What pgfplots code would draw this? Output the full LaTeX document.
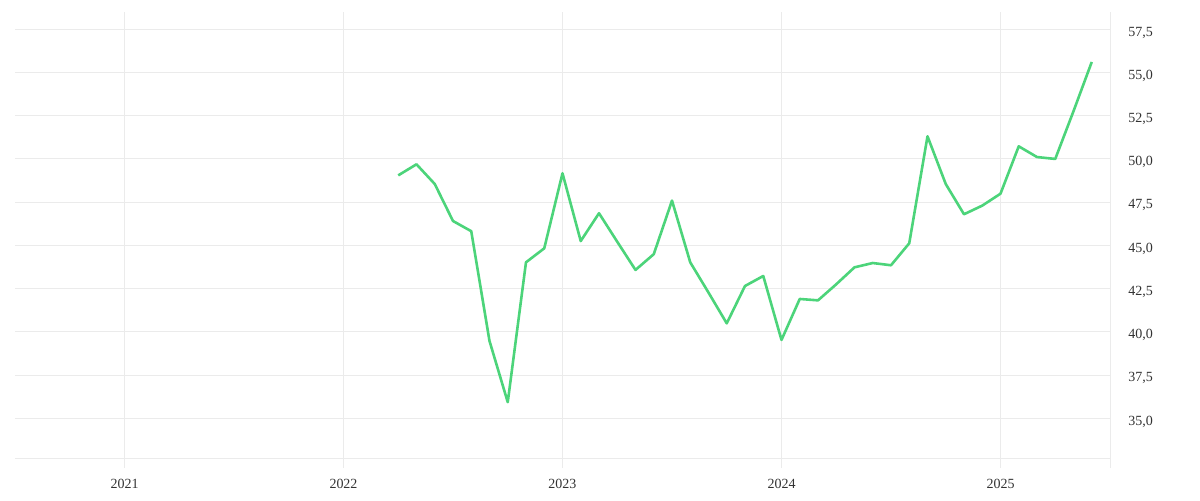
\documentclass[border=0pt]{standalone}
\usepackage{fontspec}
\setmainfont{Liberation Serif}
\usepackage{pgfplots}
\pgfplotsset{compat=1.18}
\definecolor{gridc}{HTML}{EBEBEB}
\definecolor{linec}{HTML}{4CD47A}
\definecolor{txt}{HTML}{333333}

\begin{document}
\begin{tikzpicture}
\useasboundingbox (0,0) rectangle (600pt,250pt);
\begin{axis}[
  at={(7.5pt,21pt)}, anchor=south west,
  scale only axis, width=547.5pt, height=223pt,
  xmin=2020.5, xmax=2025.5, ymin=32.7, ymax=58.5,
  axis line style={draw=none},
  xtick={2021,2022,2023,2024,2025},
  xticklabels={2021,2022,2023,2024,2025},
  ytick={35,37.5,40,42.5,45,47.5,50,52.5,55,57.5},
  grid=major,
  grid style={gridc, line width=0.5pt},
  xtick style={gridc, line width=0.5pt},
  ytick style={draw=none},
  xtick pos=bottom, tick align=outside,
  major tick length=5pt,
  yticklabel pos=right,
  /pgf/number format/assume math mode=true,
  yticklabel={\pgfmathprintnumber[fixed, fixed zerofill, precision=1, use comma]{\tick}},
  yticklabel style={anchor=base west, inner sep=0pt, xshift=4pt, yshift=-3.4pt, font=\fontsize{7}{8}\selectfont, text=txt},
  xticklabel style={anchor=north, inner sep=0pt, yshift=-5.3pt, font=\fontsize{7}{8}\selectfont, text=txt},
  extra x ticks={2025.5},
  extra x tick labels={},
  extra x tick style={grid=major},
  extra y ticks={32.7},
  extra y tick labels={},
  extra y tick style={grid=major},
]
\addplot[linec, line width=1.3pt, line join=round] coordinates {
  (2022.25,49.05) (2022.3333,49.69) (2022.4167,48.55) (2022.5,46.41)
  (2022.5833,45.82) (2022.6667,39.47) (2022.75,35.93) (2022.8333,44.02)
  (2022.9167,44.83) (2023,49.17) (2023.0833,45.25) (2023.1667,46.86)
  (2023.25,45.21) (2023.3333,43.58) (2023.4167,44.49) (2023.5,47.59)
  (2023.5833,44.02) (2023.6667,42.27) (2023.75,40.49) (2023.8333,42.65)
  (2023.9167,43.23) (2024,39.53) (2024.0833,41.90) (2024.1667,41.82)
  (2024.25,42.75) (2024.3333,43.73) (2024.4167,43.98) (2024.5,43.85)
  (2024.5833,45.12) (2024.6667,51.31) (2024.75,48.55) (2024.8333,46.80)
  (2024.9167,47.30) (2025,47.99) (2025.0833,50.73) (2025.1667,50.11)
  (2025.25,50.00) (2025.3333,52.76) (2025.4167,55.61)
};
\end{axis}
\end{tikzpicture}
\end{document}
